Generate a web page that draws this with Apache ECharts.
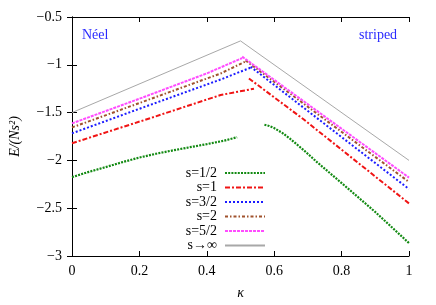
<!DOCTYPE html>
<html>
<head>
<meta charset="utf-8">
<script src="https://cdn.jsdelivr.net/npm/echarts/dist/echarts.min.js"></script>
<style>html,body{margin:0;padding:0;background:#fff}#c{width:436px;height:305px}</style>
</head>
<body>
<div id="c"></div>
<script>
// ---- data (kappa, E/(Ns^2)) ----
const seriesNames = ['s=1/2', 's=1', 's=3/2', 's=2', 's=5/2', 's\u2192\u221e'];
const xTicks = [0, 0.2, 0.4, 0.6, 0.8, 1];
const yTicks = [-3, -2.5, -2, -1.5, -1, -0.5];

const neelHalf = [[0,-2.175],[0.05,-2.12],[0.1,-2.07],[0.15,-2.018],[0.2,-1.97],[0.25,-1.93],[0.3,-1.895],[0.35,-1.862],[0.4,-1.83],[0.45,-1.795],[0.49,-1.758]];
const stripHalf = [[0.571,-1.627],[0.585,-1.64],[0.6,-1.662],[0.625,-1.715],[0.648,-1.776],[0.69,-1.9],[0.727,-2.018],[0.825,-2.312],[0.9,-2.54],[1,-2.865]];
const neelOne = [[0,-1.821],[0.234,-1.556],[0.441,-1.316],[0.54,-1.25]];
const stripOne = [[0.525,-1.143],[0.687,-1.57],[1,-2.45]];
const neelThreeHalf = [[0,-1.717],[0.2,-1.46],[0.441,-1.154],[0.53,-1.03]];
const stripThreeHalf = [[0.53,-1.02],[0.75,-1.62],[1,-2.30]];
const neelTwo = [[0,-1.655],[0.2,-1.40],[0.441,-1.091],[0.515,-0.965]];
const stripTwo = [[0.515,-0.955],[1,-2.226]];
const neelFiveHalf = [[0,-1.613],[0.2,-1.355],[0.4,-1.09],[0.505,-0.93]];
const stripFiveHalf = [[0.505,-0.915],[1,-2.18]];
const neelClassical = [[0,-1.5],[0.5,-0.75]];
const stripClassical = [[0.5,-0.75],[1,-2.0]];

const branches = [
  [neelHalf, stripHalf], [neelOne, stripOne], [neelThreeHalf, stripThreeHalf],
  [neelTwo, stripTwo], [neelFiveHalf, stripFiveHalf], [neelClassical, stripClassical]
];
const styles = [
  {color:'#138a13', width:2.2, type:[2,1.2]},
  {color:'#f01414', width:2, type:[5,2,2,2]},
  {color:'#1c1cff', width:2, type:[2,2]},
  {color:'#a0522d', width:2, type:[3,2,1.5,2]},
  {color:'#ff4cff', width:2, type:[3,1]},
  {color:'#a8a8a8', width:1, type:'solid'}
];

const series = [];
branches.forEach((br, i) => {
  br.forEach(d => {
    series.push({
      name: seriesNames[i], type: 'line', data: d, symbol: 'none', showSymbol: false,
      smooth: false, animation: false, xAxisIndex: 0, yAxisIndex: 0,
      color: styles[i].color,
      lineStyle: {color: styles[i].color, width: styles[i].width, type: styles[i].type}
    });
  });
});

const serif = '"Liberation Serif", "DejaVu Serif", serif';
const fmt = v => String(v).replace('-', '\u2212');
const axisCommon = {
  axisLine: {show: true, lineStyle: {color: '#000', width: 1}},
  axisTick: {show: true, inside: true, length: 5, lineStyle: {color: '#000'}},
  splitLine: {show: false}
};

const chart = echarts.init(document.getElementById('c'), null, {renderer: 'canvas'});
chart.setOption({
  animation: false,
  backgroundColor: '#fff',
  grid: {left: 71, right: 27, top: 17, bottom: 47, containLabel: false},
  xAxis: [
    Object.assign({type:'value', min: xTicks[0], max: xTicks[xTicks.length-1], interval: 0.2, position:'bottom',
      name: '\u03ba', nameLocation: 'middle', nameGap: 30,
      nameTextStyle: {fontFamily: serif, fontStyle: 'italic', fontSize: 14, color: '#000'},
      axisLabel: {fontFamily: serif, fontSize: 14, color: '#000', margin: 8, formatter: fmt}}, axisCommon),
    Object.assign({type:'value', min: 0, max: 1, interval: 0.2, position:'top', axisLabel:{show:false}}, axisCommon)
  ],
  yAxis: [
    Object.assign({type:'value', min: yTicks[0], max: yTicks[yTicks.length-1], interval: 0.5, position:'left',
      name: 'E/(Ns\u00b2)', nameLocation: 'middle', nameGap: 50, nameRotate: 90,
      nameTextStyle: {fontFamily: serif, fontStyle: 'italic', fontSize: 14, color: '#000'},
      axisLabel: {fontFamily: serif, fontSize: 14, color: '#000', margin: 10, formatter: fmt}}, axisCommon),
    Object.assign({type:'value', min: -3, max: -0.5, interval: 0.5, position:'right', axisLabel:{show:false}}, axisCommon)
  ],
  legend: {
    data: seriesNames, orient: 'vertical', align: 'right', right: 170, top: 166,
    itemWidth: 40, itemHeight: 8, itemGap: 0.5, padding: 0,
    itemStyle: {opacity: 0, borderWidth: 0},
    textStyle: {fontFamily: serif, fontSize: 14, color: '#000', lineHeight: 14, padding: [0, 3, 0, 0]},
    selectedMode: false
  },
  graphic: [
    {type:'text', left: 82, top: 28, style:{text:'N\u00e9el', fontFamily: serif, fontSize: 14, fill:'#2a2aff'}},
    {type:'text', left: 359, top: 28, style:{text:'striped', fontFamily: serif, fontSize: 14, fill:'#2a2aff'}}
  ],
  series: series
});
</script>
</body>
</html>
